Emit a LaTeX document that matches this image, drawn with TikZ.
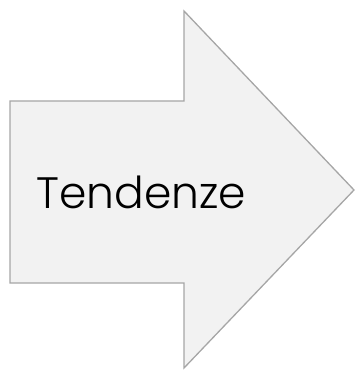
\documentclass[tikz,border=0pt]{standalone}
\usepackage{fontspec}
\setmainfont{Poppins}[UprightFont=* Light]
\definecolor{arrowfill}{HTML}{F2F2F2}
\definecolor{arrowline}{HTML}{A6A6A6}
\tikzset{
  bigarrow/.style={fill=arrowfill, draw=arrowline, line width=1.3pt, line join=miter},
  label/.style={inner sep=0pt, anchor=base west, text=black, font=\fontsize{44}{44}\selectfont}
}
\begin{document}
\begin{tikzpicture}[x=1pt,y=-1pt]
\useasboundingbox (0,0) rectangle (356,371);
\draw[bigarrow] (10,101) -- (184,101) -- (184,11) -- (354,190) -- (184,368) -- (184,283) -- (10,283) -- cycle;
\node[label] (t) at (36,208.7) {Tendenze};
\end{tikzpicture}
\end{document}
